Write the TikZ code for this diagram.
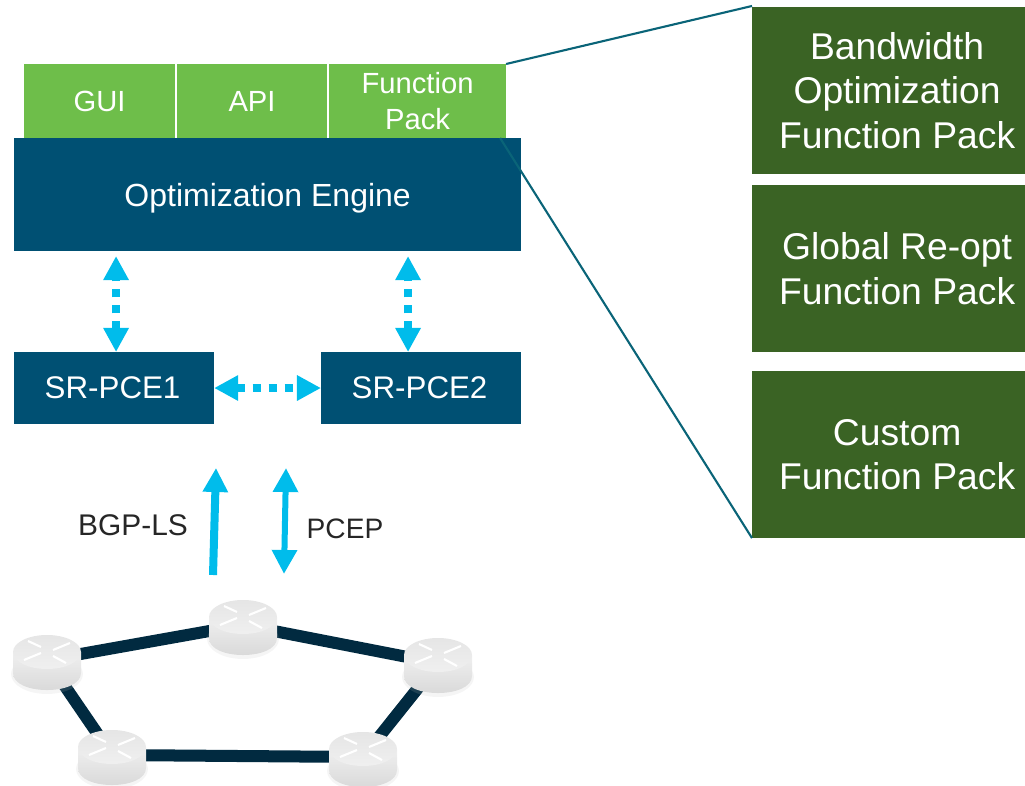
\documentclass[tikz,border=0pt]{standalone}
\usepackage{fontspec}
\setmainfont{Liberation Sans}
\usetikzlibrary{arrows.meta}
\definecolor{enginecolor}{HTML}{005073}
\definecolor{packcolor}{HTML}{6EBE4A}
\definecolor{funccolor}{HTML}{3A6324}
\definecolor{flowcolor}{HTML}{00BCEB}
\definecolor{linkcolor}{HTML}{012A40}
\definecolor{leadcolor}{HTML}{0A6478}
\newcommand{\packshift}{\hspace*{0.17cm}}
\tikzset{
  box/.style={anchor=north west,inner sep=0pt,outer sep=0pt,text=white,align=center},
  packbox/.style={box,fill=packcolor,font=\fontsize{8.3}{10.1}\selectfont,minimum height=0.74cm},
  pcebox/.style={box,fill=enginecolor,font=\fontsize{8.9}{10}\selectfont,minimum width=2cm,minimum height=0.72cm},
  funcbox/.style={box,fill=funccolor,font=\fontsize{10.6}{12.6}\selectfont,minimum width=2.73cm,minimum height=1.67cm},
  flow/.style={color=flowcolor,line width=0.08cm,{Triangle[length=0.24cm,width=0.24cm]}-{Triangle[length=0.24cm,width=0.24cm]}},
  flowdash/.style={flow,dash pattern=on 0.08cm off 0.08cm},
  lead/.style={color=leadcolor,line width=0.6pt},
  proto/.style={text=black!85,inner sep=0pt,font=\fontsize{8.5}{10}\selectfont},
  router/.pic={
    \fill[black!25,opacity=0.15] (0,14) ellipse [x radius=36,y radius=20];
    \shade[top color=black!6,bottom color=black!16] (-34,-8) -- (-34,13)
      .. controls (-34,35.7) and (34,35.7) .. (34,13) -- (34,-8) -- cycle;
    \shade[top color=black!10,bottom color=black!6] (0,-8) ellipse [x radius=34,y radius=17];
    \draw[white,line width=0.6pt] (-23,0) -- (-6,-7) (23,-17) -- (6,-10) (-19,-19) -- (-6,-13) (19,3) -- (6,-4);
  }
}
\begin{document}
\begin{tikzpicture}[x=0.01cm,y=-0.01cm]
  \useasboundingbox (0,0) rectangle (1025,786);

  % stack on the left
  \node[packbox,minimum width=1.51cm] (gui) at (24,64) {GUI};
  \node[packbox,minimum width=1.50cm] (api) at (177,64) {API};
  \node[packbox,minimum width=1.77cm] (fp) at (329,64) {Function\\Pack};
  \node[box,fill=enginecolor,font=\fontsize{9.1}{12}\selectfont,text depth=0pt,minimum width=5.07cm,minimum height=1.13cm] (oe) at (14,138) {Optimization Engine};
  \node[pcebox] (pce1) at (14,352) {\hspace*{-0.03cm}SR-PCE1};
  \node[pcebox] (pce2) at (321,352) {\hspace*{-0.03cm}SR-PCE2};

  % function packs
  \node[funcbox] (bw) at (752,7) {\packshift Bandwidth\\\packshift Optimization\\\packshift Function Pack};
  \node[funcbox] (reopt) at (752,185) {\packshift Global Re-opt\\\packshift Function Pack};
  \node[funcbox] (custom) at (752,371) {\packshift Custom\\\packshift Function Pack};
  \draw[lead] (fp.north east) -- ([yshift=0.01cm]bw.north west);
  \draw[lead] ([xshift=-0.06cm]fp.south east) -- (custom.south west);

  % flows
  \draw[flowdash] ([xshift=0.02cm]pce1.north) -- ([xshift=0.02cm,yshift=-0.05cm]pce1.north |- oe.south);
  \draw[flowdash] ([xshift=-0.13cm]pce2.north) -- ([xshift=-0.13cm,yshift=-0.05cm]pce2.north |- oe.south);
  \draw[flowdash] (pce1.east) -- (pce2.west);
  \coordinate (bgptop) at (216,468);
  \coordinate (bgpend) at (213,575);
  \coordinate (peptop) at (286,468);
  \coordinate (pepend) at (284,574);
  \draw[flow,{Triangle[length=0.24cm,width=0.24cm]}-] (bgptop) -- (bgpend);
  \draw[flow,line width=0.06cm] (peptop) -- (pepend);
  \node[proto] (bgp) at (133,525) {BGP-LS};
  \node[proto,font=\fontsize{8}{10}\selectfont] (pep) at (345,529) {PCEP};

  % network
  \foreach \i/\x/\y in {1/47/660, 2/243/625, 3/438/663, 4/363/757, 5/112/755}{
    \coordinate (r\i) at (\x, \y);
  }
  \foreach \a/\b in {1/2, 2/3, 3/4, 4/5, 5/1}{
    \draw[linkcolor,line width=0.12cm] (r\a) -- (r\b);
  }
  \foreach \i in {1,...,5}{
    \pic at (r\i) {router};
  }
\end{tikzpicture}
\end{document}
